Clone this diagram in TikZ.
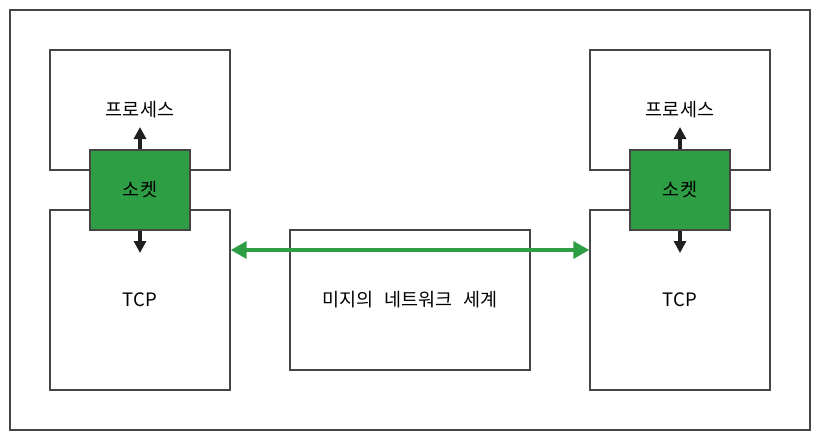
\documentclass[tikz,border=0pt]{standalone}
\usepackage{fontspec}
\usepackage{xcolor}
\usepackage{tikz}
\usetikzlibrary{arrows.meta}
\newfontfamily\krfont{Noto Sans CJK KR}
\definecolor{sockgreen}{HTML}{2E9E44}
\definecolor{linegray}{HTML}{454545}
\tikzset{
  box/.style={draw=linegray, line width=1.4pt, fill=white, rectangle, font=\krfont\fontsize{18.5}{22}\selectfont},
  sockbox/.style={box, fill=sockgreen, minimum width=100pt, minimum height=80pt},
  updown/.style={-{Triangle[length=12pt,width=12pt]}, line width=4pt, draw=black!88},
  link/.style={{Triangle[length=16pt,width=17pt]}-{Triangle[length=16pt,width=17pt]}, line width=3.5pt, draw=sockgreen}
}

\begin{document}
\begin{tikzpicture}[x=1pt, y=-1pt]
\useasboundingbox (0,0) rectangle (820,440);
% Nodes
\node[box, minimum width=800pt, minimum height=420pt] (frame) at (410,220) {};
\node[box, minimum width=180pt, minimum height=120pt] (procL) at (140,110) {프로세스};
\node[box, minimum width=180pt, minimum height=180pt] (tcpL) at (140,300) {TCP};
\node[box, minimum width=180pt, minimum height=120pt] (procR) at (680,110) {프로세스};
\node[box, minimum width=180pt, minimum height=180pt] (tcpR) at (680,300) {TCP};
\node[box, minimum width=240pt, minimum height=140pt] (net) at (410,300) {미지의\hspace{0.6em}네트워크\hspace{0.6em}세계};
\node[sockbox] (sockL) at (140,190) {소켓};
\node[sockbox] (sockR) at (680,190) {소켓};
\coordinate (upL) at (140,127);
\coordinate (downL) at (140,253);
\coordinate (upR) at (680,127);
\coordinate (downR) at (680,253);

% Arrows
\draw[updown] (sockL.north) -- (upL);
\draw[updown] (sockL.south) -- (downL);
\draw[updown] (sockR.north) -- (upR);
\draw[updown] (sockR.south) -- (downR);
\draw[link] ([yshift=50pt]tcpL.east) -- ([yshift=50pt]tcpR.west);
\end{tikzpicture}
\end{document}
